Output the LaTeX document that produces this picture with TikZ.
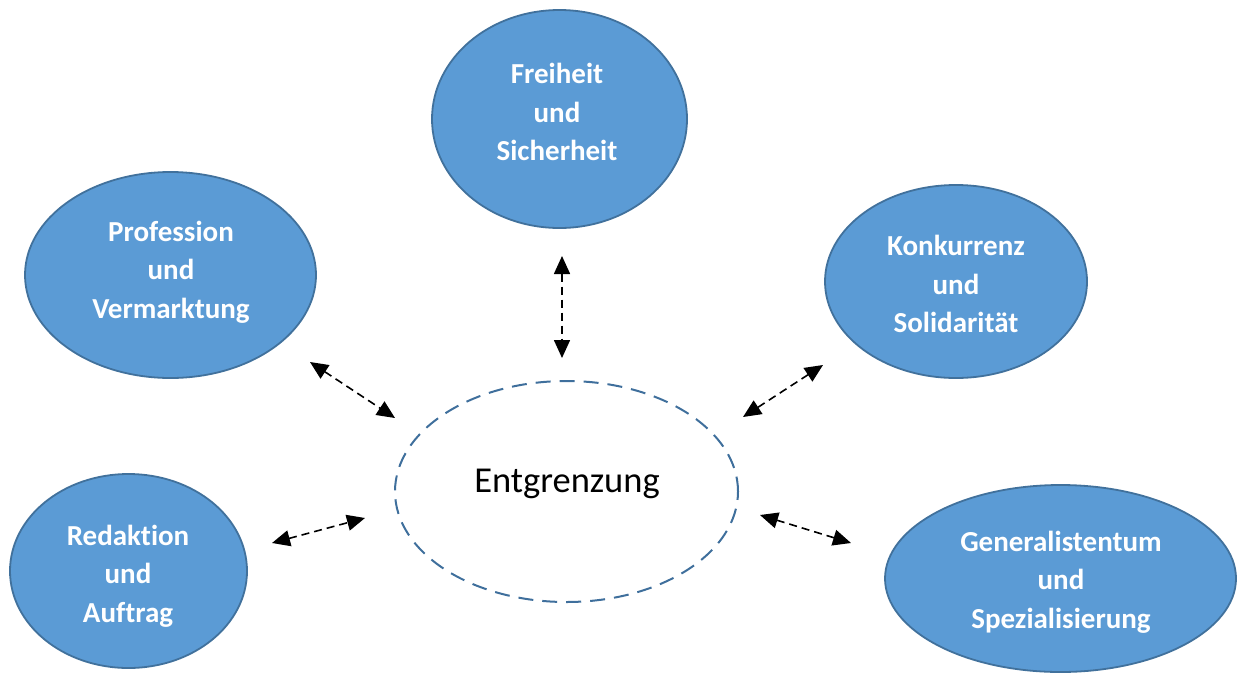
\documentclass[tikz,border=0pt]{standalone}
\usepackage{fontspec}
\setmainfont{Carlito}[Ligatures=NoCommon]
\usetikzlibrary{shapes.geometric,arrows.meta}
\definecolor{bubblefill}{HTML}{5B9BD5}
\definecolor{bubbleline}{HTML}{41719C}
\definecolor{dashline}{HTML}{3F6F9C}
\tikzset{
  bubble/.style={ellipse, fill=bubblefill, draw=bubbleline, line width=1.8pt, inner sep=0pt},
  lbl/.style={text=white, font=\fontsize{29}{38.5}\selectfont\bfseries, align=center, inner sep=0pt},
  centre/.style={ellipse, draw=dashline, line width=2pt, dash pattern=on 15pt off 9pt, inner sep=0pt},
  tip/.style={},
  link/.style={line width=1.6pt, dash pattern=on 8pt off 5pt, {Triangle[length=18pt,width=16pt]}-{Triangle[length=18pt,width=16pt]}}
}
\begin{document}
\begin{tikzpicture}[x=1pt,y=-1pt]
\useasboundingbox (0,0) rectangle (1238,675);
% bubbles
\node[bubble, minimum width=255pt, minimum height=218pt] (fs) at (559.5,119) {};
\node[lbl] (fsl) at (557,112) {Freiheit\\und\\Sicherheit};
\node[bubble, minimum width=291pt, minimum height=206pt] (pv) at (170.5,275) {};
\node[lbl] (pvl) at (171,272) {Profession\\und\\Vermarktung};
\node[bubble, minimum width=262pt, minimum height=193pt] (ks) at (956,281.5) {};
\node[lbl] (ksl) at (956,284) {Konkurrenz\\und\\Solidarität};
\node[bubble, minimum width=237pt, minimum height=194pt] (ra) at (128.5,571) {};
\node[lbl] (ral) at (128,576) {Redaktion\\und\\Auftrag};
\node[bubble, minimum width=351pt, minimum height=187pt] (gs) at (1060.5,578.5) {};
\node[lbl] (gsl) at (1061,582) {Generalistentum\\und\\Spezialisierung};
% centre
\node[centre, minimum width=343pt, minimum height=221pt] (eg) at (566.5,491.5) {};
\node[font=\fontsize{36.5}{44}\selectfont, anchor=base, inner sep=0pt] (egl) at (567,492.5) {Entgrenzung};
% arrow ends
\coordinate (a1) at (562,256); \coordinate (b1) at (562,358);
\coordinate (a2) at (310,362); \coordinate (b2) at (395,418);
\coordinate (a3) at (823,365); \coordinate (b3) at (743,417);
\coordinate (a4) at (272,543); \coordinate (b4) at (365,518);
\coordinate (a5) at (760,515); \coordinate (b5) at (851,543);
\draw[link] (a1) -- (b1);
\draw[link] (a2) -- (b2);
\draw[link] (a3) -- (b3);
\draw[link] (a4) -- (b4);
\draw[link] (a5) -- (b5);
\end{tikzpicture}
\end{document}
